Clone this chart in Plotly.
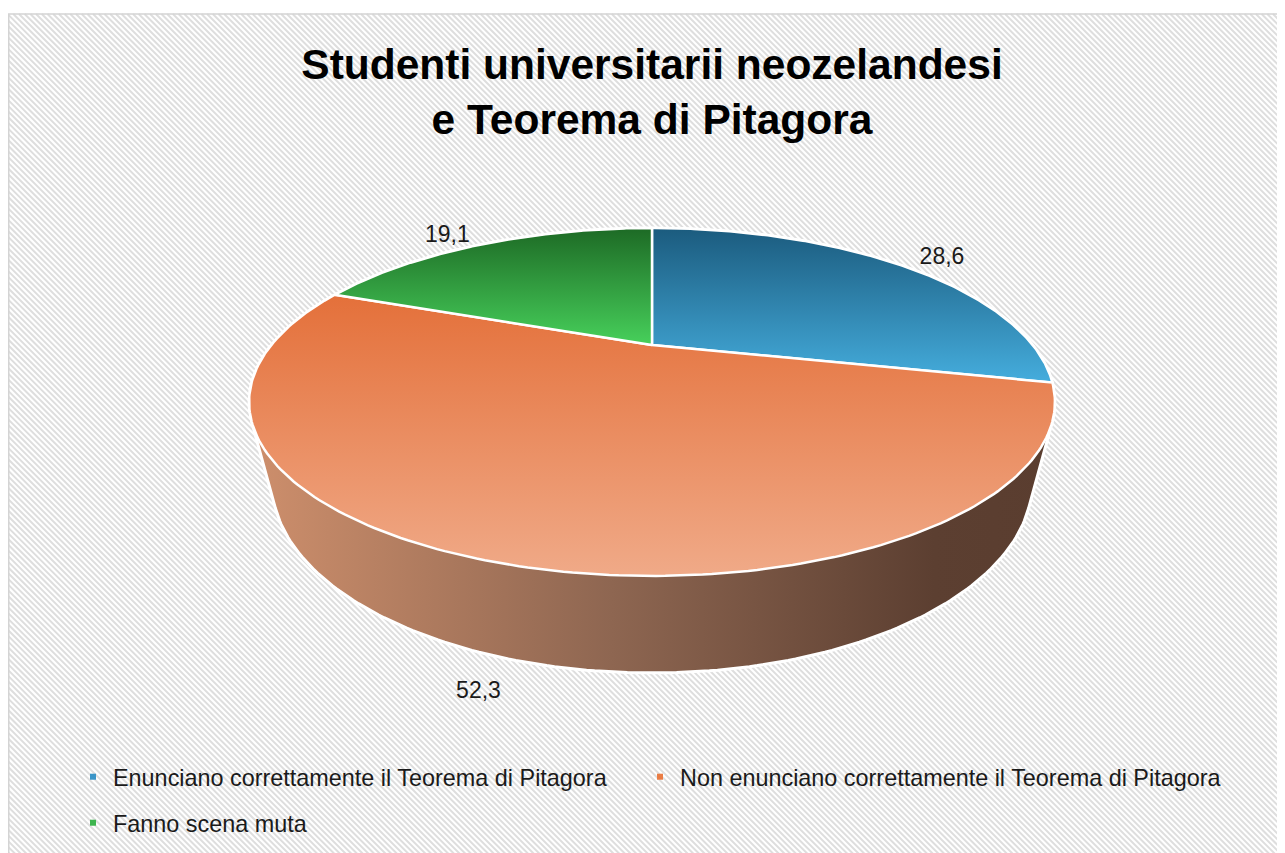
import numpy as np
import plotly.graph_objects as go

# ---------------- data ----------------
categories = [
    "Enunciano correttamente il Teorema di Pitagora",
    "Non enunciano correttamente il Teorema di Pitagora",
    "Fanno scena muta",
]
values = [28.6, 52.3, 19.1]
title_lines = ["Studenti universitarii neozelandesi", "e Teorema di Pitagora"]

# ---------------- styles ----------------
legend_colors = ["#3a95c8", "#ea7d45", "#3eb54f"]
legend_ids = ["legend", "legend3", "legend2"]
top_colors = [  # (top of slice, bottom of slice)
    ("#1b5b7e", "#45addd"),
    ("#e4703a", "#f0aa88"),
    ("#1d6a25", "#47d05b"),
]
wall_scale = [[0.0, "#ce8f6c"], [0.45, "#8e6651"], [0.85, "#5c3f31"], [1.0, "#5a3d2f"]]

OFF = 8  # page body margin in the browser
W, H = 1285 - OFF, 853 - OFF
# perspective projection of the pie disk (figure pixel space)
CX, CY = 652.0 - OFF, 345.0 - OFF
A, B, K = 380.7, 155.3, 0.3275
EH, GH = 83.0, 0.054


def project(X, Y, depth):
    w = 1.0 + K * Y + GH * depth
    return CX + A * X / w, CY + (-B * Y + EH * depth) / w


def hull(points):
    pts = sorted(set(points))
    def cross(o, a, b):
        return (a[0] - o[0]) * (b[1] - o[1]) - (a[1] - o[1]) * (b[0] - o[0])
    lower, upper = [], []
    for p in pts:
        while len(lower) >= 2 and cross(lower[-2], lower[-1], p) <= 0:
            lower.pop()
        lower.append(p)
    for p in reversed(pts):
        while len(upper) >= 2 and cross(upper[-2], upper[-1], p) <= 0:
            upper.pop()
        upper.append(p)
    return lower[:-1] + upper[:-1]


fig = go.Figure()

# ---- side wall (projection of the whole cylinder, top faces drawn over it) ----
t = np.linspace(0, 2 * np.pi, 400, endpoint=False)
pts = []
for d in (0.0, 1.0):
    xs, ys = project(np.sin(t), np.cos(t), d)
    pts += [(round(float(a), 3), round(float(b), 3)) for a, b in zip(xs, ys)]
hp = hull(pts)
hx = [p[0] for p in hp] + [hp[0][0]]
hy = [p[1] for p in hp] + [hp[0][1]]
fig.add_trace(go.Scatter(
    x=hx, y=hy, mode="lines", fill="toself",
    line=dict(color="white", width=3),
    fillgradient=dict(type="horizontal", colorscale=wall_scale),
    hoverinfo="skip", showlegend=False,
))

# ---- top faces of slices ----
total = sum(values)
cum = 0.0
label_x, label_y, label_pos = [], [], []
for i, v in enumerate(values):
    a0 = 2 * np.pi * cum / total
    a1 = 2 * np.pi * (cum + v) / total
    cum += v
    aa = np.linspace(a0, a1, 200)
    xs, ys = project(np.sin(aa), np.cos(aa), 0.0)
    px = [CX] + list(xs) + [CX]
    py = [CY] + list(ys) + [CY]
    c_top, c_bot = top_colors[i]
    fig.add_trace(go.Scatter(
        x=px, y=py, mode="lines", fill="toself",
        line=dict(color="white", width=2.5),
        fillgradient=dict(type="vertical", start=min(py), stop=max(py),
                          colorscale=[[0, c_top], [1, c_bot]]),
        hoverinfo="skip", showlegend=False,
    ))
    am = 0.5 * (a0 + a1)
    Xm, Ym = 1.1 * np.sin(am), 1.1 * np.cos(am)
    if Ym > 0:
        lx, ly = project(Xm, Ym, 0.0)
        label_pos.append("middle right" if Xm > 0 else "middle left")
    else:
        lx, ly = project(Xm, Ym, 1.0)
        label_pos.append("middle center")
    label_x.append(float(lx))
    label_y.append(float(ly))

# ---- data labels ----
fig.add_trace(go.Scatter(
    x=label_x, y=label_y, mode="text",
    text=[f"{v:.1f}".replace(".", ",") for v in values],
    textposition=label_pos,
    textfont=dict(family="Liberation Sans", size=23, color="#1a1a1a"),
    hoverinfo="skip", showlegend=False,
))

# ---- legend entries ----
for i, name in enumerate(categories):
    fig.add_trace(go.Scatter(
        x=[None], y=[None], mode="markers", name=name,
        marker=dict(symbol="square", size=6, color=legend_colors[i]),
        legend=legend_ids[i],
    ))

# ---- background stripes ----
X0, Y0, X1, Y1 = 8 - OFF, 14 - OFF, W + 5, H + 5
period = 5.7
segs = []
c = X0 - Y1
while c < X1 - Y0:
    sx0, sy0 = (c + Y0, Y0) if c + Y0 >= X0 else (X0, X0 - c)
    ex, ey = (c + Y1, Y1) if c + Y1 <= X1 else (X1, X1 - c)
    segs.append(f"M{sx0:.2f},{sy0:.2f}L{ex:.2f},{ey:.2f}")
    c += period
shapes = [
    dict(type="path", path="".join(segs), xref="x", yref="y", layer="below",
         line=dict(color="#dedede", width=2)),
    dict(type="rect", x0=X0 + 0.75, y0=Y0, x1=X1, y1=Y1, xref="x", yref="y", layer="below",
         line=dict(color="#d4d4d4", width=1.5)),
]

leg_font = dict(family="Liberation Sans", size=23.4, color="#1a1a1a")
row1_y = 1 - (777 - OFF) / H
row2_y = 1 - (823 - OFF) / H

fig.update_layout(
    width=W, height=H,
    margin=dict(l=0, r=0, t=0, b=0),
    paper_bgcolor="white", plot_bgcolor="white",
    xaxis=dict(range=[0, W], visible=False, fixedrange=True),
    yaxis=dict(range=[H, 0], visible=False, fixedrange=True),
    shapes=shapes,
    title=dict(
        text="<br>".join(title_lines),
        x=(652 - OFF) / W, xanchor="center", y=1 - 71 / H, yanchor="top",
        font=dict(family="Liberation Sans", size=42.5, color="black", weight="bold"),
    ),
    legend=dict(orientation="h", x=65 / W, xanchor="left", y=row1_y, yanchor="middle",
                font=leg_font, bgcolor="rgba(0,0,0,0)"),
    legend3=dict(orientation="h", x=632 / W, xanchor="left", y=row1_y, yanchor="middle",
                 font=leg_font, bgcolor="rgba(0,0,0,0)"),
    legend2=dict(orientation="h", x=65 / W, xanchor="left", y=row2_y, yanchor="middle",
                 font=leg_font, bgcolor="rgba(0,0,0,0)"),
)

fig.write_html("out.html")
